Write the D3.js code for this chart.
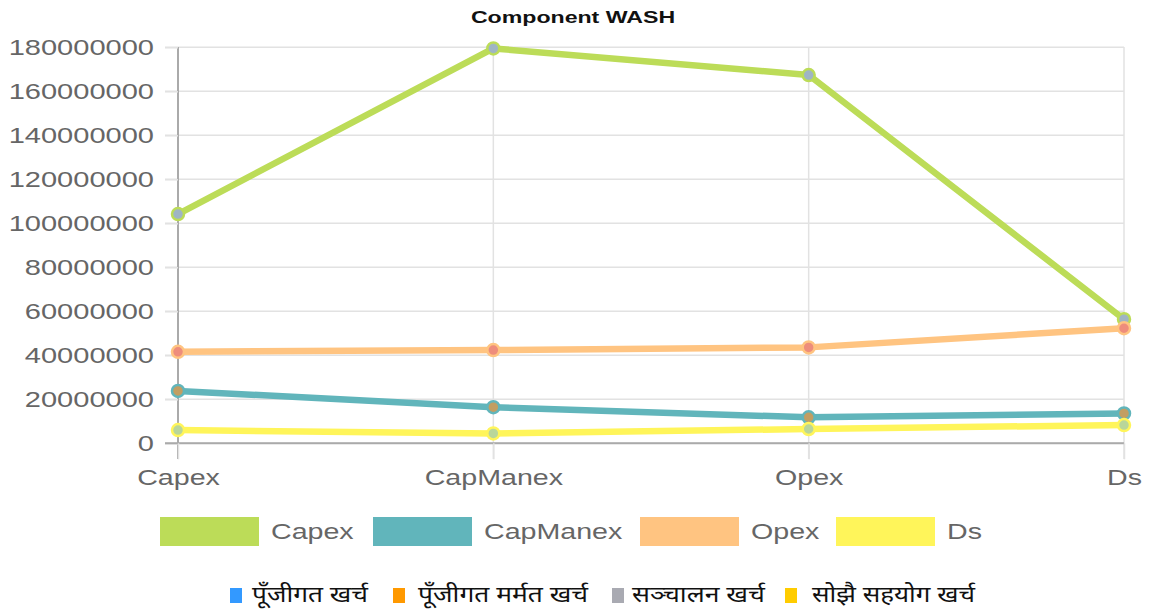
<!DOCTYPE html>
<meta charset="utf-8">
<style>
body { margin: 0; background: #fff; }
.axis text { font-family: "Liberation Sans", Arial, sans-serif; font-size: 22px; fill: #666; }
.grid line { stroke: #e2e2e2; stroke-width: 1.5px; }
.line { fill: none; stroke-width: 6.5px; stroke-linejoin: round; }
</style>
<svg width="1151" height="614"></svg>
<script src="https://cdn.jsdelivr.net/npm/d3@7"></script>
<script>

var categories = ["Capex", "CapManex", "Opex", "Ds"];
var seriesNames = ["Capex", "CapManex", "Opex", "Ds"];
var capexValues    = [104200000, 179500000, 167400000, 56400000];
var capManexValues = [23800000, 16400000, 11800000, 13600000];
var opexValues     = [41600000, 42400000, 43600000, 52300000];
var dsValues       = [6000000, 4500000, 6500000, 8300000];
var yTicks = [0, 20000000, 40000000, 60000000, 80000000, 100000000, 120000000, 140000000, 160000000, 180000000];
var lineColors  = ["#bcdc58", "#61b5bb", "#ffc481", "#fff55a"];
var pointFills  = ["#9fb5c4", "#c29e62", "#ee8d7c", "#b9d69a"];
var bottomLabels = ["पूँजीगत खर्च", "पूँजीगत मर्मत खर्च", "सञ्चालन खर्च", "सोझै सहयोग खर्च"];
var bottomColors = ["#3399ff", "#ff9900", "#a9aab2", "#ffcc00"];

var svg = d3.select("svg");

// the reference text is drawn wider than the font's natural width
function stretch(sel, k) {
  sel.each(function() {
    var w = this.getComputedTextLength();
    d3.select(this).attr("textLength", w * k).attr("lengthAdjust", "spacingAndGlyphs");
  });
}

var x = d3.scalePoint().domain(categories).range([178, 1124]);
var y = d3.scaleLinear().domain([0, 180000000]).range([443.3, 47.3]);

var series = [capexValues, capManexValues, opexValues, dsValues].map(function(vals, i) {
  return { name: seriesNames[i], color: lineColors[i], fill: pointFills[i],
           values: vals.map(function(v, j) { return { cat: categories[j], v: v }; }) };
});

// title
svg.append("text")
    .attr("x", 573).attr("y", 23)
    .attr("text-anchor", "middle")
    .style("font", "bold 17px 'Liberation Sans', Arial, sans-serif")
    .attr("fill", "#111")
    .text("Component WASH")
    .call(stretch, 1.36);

// horizontal grid
svg.append("g").attr("class", "grid")
  .selectAll("line").data(yTicks).enter().append("line")
    .attr("x1", 165).attr("x2", 1124)
    .attr("y1", function(d) { return y(d); }).attr("y2", function(d) { return y(d); });

// vertical grid
svg.append("g").attr("class", "grid")
  .selectAll("line").data(categories).enter().append("line")
    .attr("x1", function(d) { return x(d); }).attr("x2", function(d) { return x(d); })
    .attr("y1", 47).attr("y2", 459);

// y axis
var yAxis = svg.append("g").attr("class", "axis")
    .attr("transform", "translate(178,0)")
    .call(d3.axisLeft(y).tickValues(yTicks).tickFormat(d3.format("d")).tickSize(13).tickPadding(11));
yAxis.select(".domain").attr("stroke", "#aaa").attr("stroke-width", 2).attr("d", "M0,47V459");
yAxis.selectAll(".tick line").attr("stroke", "#e2e2e2").attr("stroke-width", 1.5);
yAxis.selectAll(".tick text").call(stretch, 1.32);

// x axis
var xAxis = svg.append("g").attr("class", "axis")
    .attr("transform", "translate(0,443.3)")
    .call(d3.axisBottom(x).tickSize(16).tickPadding(6));
xAxis.select(".domain").attr("stroke", "#aaa").attr("stroke-width", 2).attr("d", "M165,0H1124");
xAxis.selectAll(".tick line").attr("stroke", "#e2e2e2").attr("stroke-width", 1.5);
xAxis.selectAll(".tick text").attr("dy", "0.9em").call(stretch, 1.3);

// lines
var line = d3.line()
    .x(function(d) { return x(d.cat); })
    .y(function(d) { return y(d.v); });

var g = svg.selectAll(".series").data(series).enter().append("g").attr("class", "series");

g.append("path")
    .attr("class", "line")
    .attr("stroke", function(d) { return d.color; })
    .attr("d", function(d) { return line(d.values); });

g.each(function(s) {
  d3.select(this).selectAll("circle").data(s.values).enter().append("circle")
      .attr("cx", function(d) { return x(d.cat); })
      .attr("cy", function(d) { return y(d.v); })
      .attr("r", 6)
      .attr("fill", s.fill)
      .attr("stroke", s.color)
      .attr("stroke-width", 2.5);
});

// series legend
var legX = [160, 373, 640, 836];
var leg = svg.selectAll(".leg").data(series).enter().append("g").attr("class", "leg")
    .attr("transform", function(d, i) { return "translate(" + legX[i] + ",517)"; });
leg.append("rect").attr("width", 99).attr("height", 29)
    .attr("fill", function(d) { return d.color; });
leg.append("text").attr("x", 111).attr("y", 14.5).attr("dy", "0.35em")
    .style("font", "22px 'Liberation Sans', Arial, sans-serif")
    .attr("fill", "#666")
    .text(function(d) { return d.name; })
    .call(stretch, 1.3);

// bottom legend
var botX = [230, 393, 612, 785];
var botTextX = [22, 25, 20, 27];
var botW = [116, 170, 133, 163];
var bot = svg.selectAll(".bot").data(bottomLabels).enter().append("g").attr("class", "bot")
    .attr("transform", function(d, i) { return "translate(" + botX[i] + ",588)"; });
bot.append("rect").attr("width", 12).attr("height", 15)
    .attr("fill", function(d, i) { return bottomColors[i]; });
bot.append("text").attr("x", function(d, i) { return botTextX[i]; }).attr("y", 14)
    .style("font", "22px 'Noto Sans', 'DejaVu Sans', sans-serif")
    .attr("fill", "#111")
    .attr("textLength", function(d, i) { return botW[i]; })
    .attr("lengthAdjust", "spacingAndGlyphs")
    .text(function(d) { return d; });

</script>
